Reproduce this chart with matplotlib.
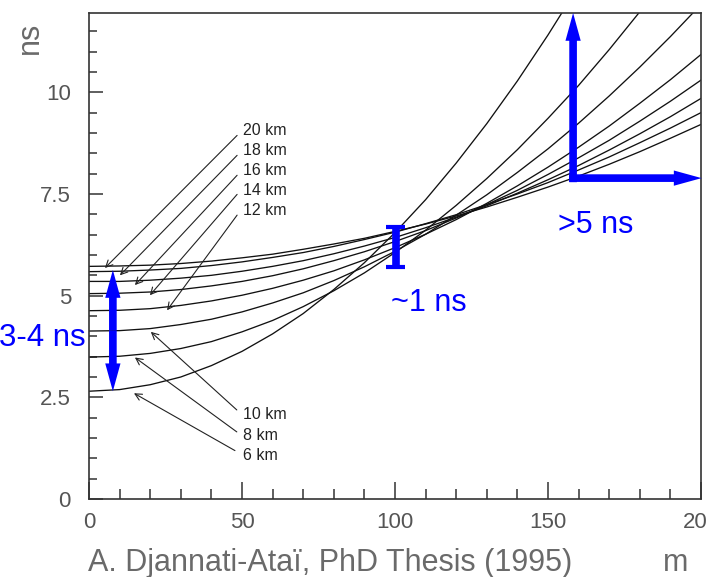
import matplotlib.pyplot as plt
from matplotlib.patches import FancyArrowPatch
from matplotlib.ticker import MultipleLocator

plt.rcParams["font.family"] = ["Liberation Sans", "DejaVu Sans"]

# Cherenkov photon arrival delay vs. distance to the shower core,
# one curve per emission height
distance_m = [0, 10, 20, 30, 40, 50, 60, 70, 80, 90, 100,
              110, 120, 130, 140, 150, 160, 170, 180, 190, 200]

delay_6km = [2.65, 2.69, 2.81, 3.00, 3.28, 3.63, 4.06, 4.56, 5.15, 5.81, 6.55,
             7.36, 8.26, 9.23, 10.28, 11.41, 12.61]
delay_8km = [3.49, 3.51, 3.58, 3.70, 3.87, 4.11, 4.39, 4.73, 5.12, 5.56, 6.06,
             6.61, 7.22, 7.88, 8.59, 9.36, 10.17, 11.05, 11.98, 12.96]
delay_10km = [4.13, 4.14, 4.19, 4.29, 4.42, 4.60, 4.82, 5.07, 5.37, 5.71, 6.09,
              6.51, 6.98, 7.48, 8.03, 8.61, 9.24, 9.91, 10.62, 11.37, 12.16]
delay_12km = [4.63, 4.64, 4.68, 4.76, 4.87, 5.01, 5.18, 5.38, 5.61, 5.88, 6.18,
              6.51, 6.87, 7.27, 7.70, 8.16, 8.65, 9.17, 9.73, 10.31, 10.93]
delay_14km = [5.05, 5.06, 5.09, 5.15, 5.24, 5.35, 5.49, 5.66, 5.86, 6.08, 6.33,
              6.60, 6.91, 7.24, 7.59, 7.98, 8.39, 8.82, 9.29, 9.78, 10.30]
delay_16km = [5.35, 5.35, 5.38, 5.43, 5.50, 5.60, 5.72, 5.86, 6.03, 6.22, 6.43,
              6.67, 6.93, 7.21, 7.52, 7.85, 8.20, 8.58, 8.98, 9.40, 9.85]
delay_18km = [5.59, 5.60, 5.63, 5.67, 5.74, 5.83, 5.94, 6.06, 6.21, 6.38, 6.56,
              6.77, 6.99, 7.24, 7.50, 7.78, 8.09, 8.41, 8.76, 9.12, 9.50]
delay_20km = [5.72, 5.73, 5.75, 5.79, 5.85, 5.93, 6.02, 6.14, 6.27, 6.41, 6.58,
              6.76, 6.96, 7.18, 7.42, 7.67, 7.94, 8.23, 8.54, 8.87, 9.21]

curves = [delay_6km, delay_8km, delay_10km, delay_12km,
          delay_14km, delay_16km, delay_18km, delay_20km]

upper_labels = ["20 km", "18 km", "16 km", "14 km", "12 km"]
lower_labels = ["10 km", "8 km", "6 km"]

x_ticks = [0, 50, 100, 150, 200]
y_ticks = [0, 2.5, 5, 7.5, 10]
y_tick_labels = ["0", "2.5", "5", "7.5", "10"]

BLUE = "#0000ff"
GREY = "#6a6a6a"


def px(x, y):
    # figure fraction from pixel position in the 706x577 picture
    return x / 706, 1 - y / 577


def blue_arrow(ax, start, end):
    arrow = FancyArrowPatch(
        start,
        end,
        arrowstyle="simple,head_length=20,head_width=11,tail_width=5.5",
        mutation_scale=1,
        color=BLUE,
        lw=0,
        shrinkA=0,
        shrinkB=0,
        clip_on=False,
        zorder=5,
    )
    ax.add_patch(arrow)


fig = plt.figure(figsize=(7.06, 5.77), dpi=100)
ax = fig.add_axes([89 / 706, 1 - 499 / 577, 612 / 706, 486 / 577])

for values in curves:
    ax.plot(distance_m[:len(values)], values, color="#111111", lw=0.95)

ax.set_xlim(0, 200)
ax.set_ylim(0, 11.95)

ax.set_xticks(x_ticks)
ax.set_yticks(y_ticks)
ax.set_yticklabels(y_tick_labels)
ax.xaxis.set_minor_locator(MultipleLocator(10))
ax.yaxis.set_minor_locator(MultipleLocator(0.5))

ax.tick_params(axis="both", which="both", direction="in", colors="#333333",
               labelcolor="#555555", labelsize=16, width=1.1)
ax.tick_params(axis="x", which="major", length=12, pad=9)
ax.tick_params(axis="x", which="minor", length=7)
ax.tick_params(axis="y", which="major", length=10, pad=13)
ax.tick_params(axis="y", which="minor", length=6)

for spine in ax.spines.values():
    spine.set_color("#333333")
    spine.set_linewidth(1.2)

# height labels with leader arrows
upper_text_y = [9.07, 8.57, 8.08, 7.59, 7.10]
upper_start = [(48.4, 8.94), (48.4, 8.45), (48.4, 7.96), (48.4, 7.49), (48.4, 6.98)]
upper_tip = [(5.2, 5.68), (10.1, 5.50), (15.0, 5.26), (19.9, 5.01), (25.5, 4.64)]

lower_text_y = [2.08, 1.57, 1.08]
lower_start = [(48.3, 2.19), (48.3, 1.65), (47.7, 1.19)]
lower_tip = [(20.2, 4.11), (15.0, 3.48), (14.7, 2.60)]

for label, ty, start, tip in zip(upper_labels + lower_labels,
                                 upper_text_y + lower_text_y,
                                 upper_start + lower_start,
                                 upper_tip + lower_tip):
    ax.text(50.3, ty, label, fontsize=11.5, color="#222222",
            ha="left", va="center")
    ax.annotate(
        "",
        xy=tip,
        xytext=start,
        arrowprops=dict(arrowstyle="->", lw=0.8, color="#222222",
                        shrinkA=0, shrinkB=0, mutation_scale=12),
    )

# blue annotations
blue_arrow(ax, (7.8, 4.14), (7.8, 5.63))
blue_arrow(ax, (7.8, 4.14), (7.8, 2.65))

blue_arrow(ax, (158.2, 7.79), (158.2, 11.95))
blue_arrow(ax, (156.9, 7.89), (200.2, 7.89))

ax.plot([100.3, 100.3], [5.72, 6.66], color=BLUE, lw=5.5,
        solid_capstyle="butt", zorder=5)
for cap_y in [5.70, 6.68]:
    ax.plot([97.2, 103.4], [cap_y, cap_y], color=BLUE, lw=3,
            solid_capstyle="butt", zorder=5)

fig.text(*px(86, 338), "3-4 ns", color=BLUE, fontsize=22.5,
         ha="right", va="center")
fig.text(*px(429, 303), "~1 ns", color=BLUE, fontsize=22,
         ha="center", va="center")
fig.text(*px(596, 225), ">5 ns", color=BLUE, fontsize=22,
         ha="center", va="center")

fig.text(*px(88, 571), "A. Djannati-Ataï, PhD Thesis (1995)", color=GREY,
         fontsize=22, ha="left", va="baseline")
fig.text(*px(676, 571), "m", color=GREY, fontsize=22,
         ha="center", va="baseline")
fig.text(*px(30, 38), "ns", color=GREY, fontsize=22, rotation=90,
         ha="center", va="center")

fig.savefig("out.png", dpi=100)
plt.close(fig)
